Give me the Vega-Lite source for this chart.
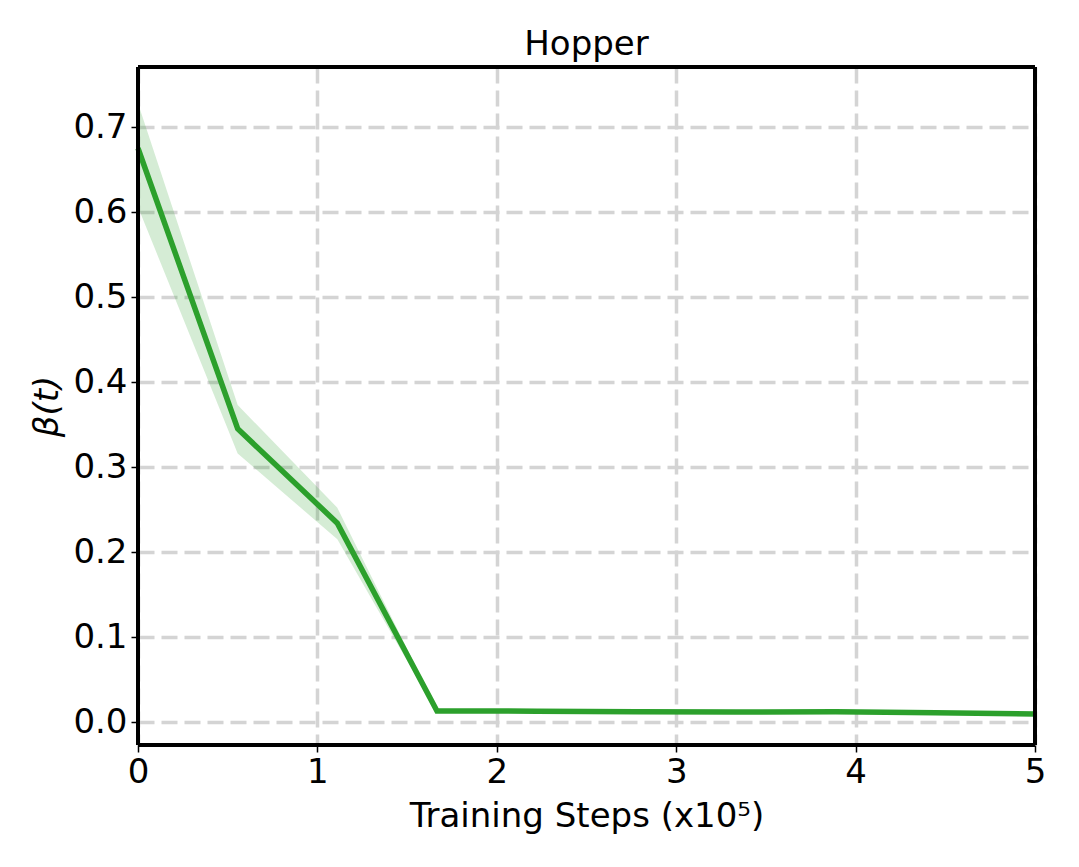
{
  "$schema": "https://vega.github.io/schema/vega-lite/v6.json",
  "width": 897,
  "height": 678,
  "autosize": {"type": "none"},
  "padding": {"left": 138, "top": 67, "right": 44, "bottom": 122},
  "background": "white",
  "title": {"text": "Hopper", "font": "DejaVu Sans", "fontSize": 34, "fontWeight": "normal", "color": "black", "offset": 3},
  "config": {
    "view": {"stroke": null},
    "axis": {
      "labelFont": "DejaVu Sans", "labelFontSize": 34, "labelColor": "black",
      "titleFont": "DejaVu Sans", "titleFontSize": 34, "titleColor": "black", "titleFontWeight": "normal",
      "tickColor": "black", "tickSize": 7, "tickWidth": 1.5, "domain": false, "labelFlush": false,
      "gridColor": "#d4d4d4", "gridWidth": 3.5, "gridDash": [16, 7], "gridOpacity": 1
    }
  },
  "data": {"values": [
    {"step": 0.0, "beta": 0.675, "lo": 0.606, "hi": 0.728},
    {"step": 0.5556, "beta": 0.345, "lo": 0.316, "hi": 0.373},
    {"step": 1.1111, "beta": 0.234, "lo": 0.215, "hi": 0.252},
    {"step": 1.6667, "beta": 0.013, "lo": 0.011, "hi": 0.015},
    {"step": 2.2222, "beta": 0.0128, "lo": 0.0115, "hi": 0.014},
    {"step": 2.7778, "beta": 0.0122, "lo": 0.011, "hi": 0.0134},
    {"step": 3.3333, "beta": 0.0118, "lo": 0.0106, "hi": 0.013},
    {"step": 3.8889, "beta": 0.012, "lo": 0.0108, "hi": 0.0132},
    {"step": 4.4444, "beta": 0.0108, "lo": 0.0096, "hi": 0.012},
    {"step": 5.0, "beta": 0.0095, "lo": 0.0084, "hi": 0.0106}
  ]},
  "layer": [
    {
      "mark": {"type": "area", "color": "#2ca02c", "opacity": 0.2},
      "encoding": {
        "x": {"field": "step", "type": "quantitative",
          "scale": {"domain": [0, 5], "nice": false, "zero": false},
          "axis": {"values": [0, 1, 2, 3, 4, 5], "format": "d", "title": "Training Steps (x10⁵)", "titlePadding": 10, "labelPadding": 3}},
        "y": {"field": "lo", "type": "quantitative",
          "scale": {"domain": [-0.027, 0.7706], "nice": false, "zero": false},
          "axis": {"values": [0, 0.1, 0.2, 0.3, 0.4, 0.5, 0.6, 0.7], "format": ".1f", "title": "β(t)", "titleFontStyle": "italic", "titlePadding": 8, "labelPadding": 4}},
        "y2": {"field": "hi"}
      }
    },
    {
      "mark": {"type": "line", "color": "#2ca02c", "strokeWidth": 5.5},
      "encoding": {
        "x": {"field": "step", "type": "quantitative"},
        "y": {"field": "beta", "type": "quantitative"}
      }
    },
    {
      "mark": {"type": "rule", "color": "black", "strokeWidth": 3.5},
      "encoding": {"x": {"datum": 0}}
    },
    {
      "mark": {"type": "rule", "color": "black", "strokeWidth": 3.5},
      "encoding": {"x": {"datum": 5}}
    },
    {
      "mark": {"type": "rule", "color": "black", "strokeWidth": 3.5},
      "encoding": {"y": {"datum": -0.027}}
    },
    {
      "mark": {"type": "rule", "color": "black", "strokeWidth": 3.5},
      "encoding": {"y": {"datum": 0.7706}}
    }
  ]
}
